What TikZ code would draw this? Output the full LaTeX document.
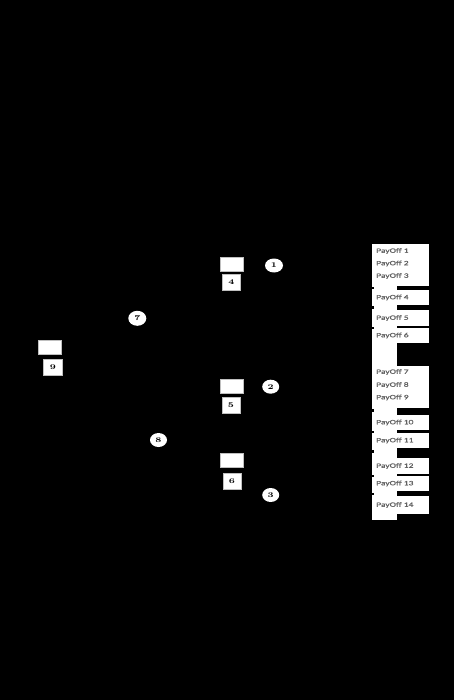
\documentclass[tikz,border=0pt]{standalone}
\usepackage{fontspec}
\usepackage{graphicx}
\usetikzlibrary{shapes.geometric}
\newfontfamily\payfont[FakeBold=0.5]{Carlito}
\newcommand{\paytxt}[1]{\scalebox{1.45}[1]{\fontsize{6.6}{7}\payfont #1}}
\newcommand{\numtxt}[1]{\scalebox{1.3}[1]{\fontsize{7.2}{8}\selectfont\bfseries #1}}
\tikzset{
  blankbox/.style={rectangle,fill=white,draw=gray!50,line width=0.4pt,inner sep=0pt,minimum width=23pt,minimum height=14pt},
  numbox/.style={rectangle,fill=white,draw=gray!50,line width=0.4pt,inner sep=0pt,minimum width=18pt,minimum height=16pt},
  chance/.style={ellipse,fill=white,draw=none,inner sep=0pt,minimum width=18pt,minimum height=14pt},
  paybox/.style={fill=white},
  tick/.style={fill=black},
  paylabel/.style={anchor=west,inner sep=0pt,text=black!62},
}
\begin{document}
\begin{tikzpicture}[x=1pt,y=-1pt]
\useasboundingbox (0,0) rectangle (454,700);
\fill[black] (0,0) rectangle (454,700);
% decision boxes and numbered boxes
\node[blankbox] (r1) at (231.5,264.5) {};
\node[numbox] (b4) at (231.5,282) {\numtxt{4}};
\node[chance] (c1) at (274,265.5) {\numtxt{1}};
\node[blankbox] (r2) at (231.5,386.3) {};
\node[numbox] (b5) at (231,404.7) {\numtxt{5}};
\node[chance,minimum width=17pt] (c2) at (270.7,386.7) {\numtxt{2}};
\node[blankbox] (r3) at (231.5,460.3) {};
\node[numbox] (b6) at (231.8,481) {\numtxt{6}};
\node[chance,minimum width=17pt] (c3) at (270.7,495) {\numtxt{3}};
\node[blankbox] (r9) at (50,347) {};
\node[numbox,minimum width=19pt] (b9) at (53,367) {\numtxt{9}};
\node[chance,minimum height=15pt] (c7) at (137.3,318.3) {\numtxt{7}};
\node[chance,minimum width=17pt] (c8) at (158.5,440) {\numtxt{8}};
% payoff column
\fill[paybox] (372,244) rectangle (397,520);
\fill[paybox] (372,244) rectangle (429,286);
\fill[paybox] (372,290) rectangle (429,305);
\fill[paybox] (372,310) rectangle (429,326);
\fill[paybox] (372,328) rectangle (429,343);
\fill[paybox] (372,366) rectangle (429,408);
\fill[paybox] (372,415) rectangle (429,430);
\fill[paybox] (372,433) rectangle (429,448);
\fill[paybox] (372,458) rectangle (429,474);
\fill[paybox] (372,476) rectangle (429,491);
\fill[paybox] (372,496) rectangle (429,514);
\foreach \ty in {286.5,306,326.5,409,430.5,450,474.5,492.5}
  \fill[tick] (371.5,\ty) rectangle (373.5,\ty+2.5);
\node[paylabel] (p1) at (376,251) {\paytxt{PayOff 1}};
\node[paylabel] (p2) at (376,263.5) {\paytxt{PayOff 2}};
\node[paylabel] (p3) at (376,276) {\paytxt{PayOff 3}};
\node[paylabel] (p4) at (376,297.5) {\paytxt{PayOff 4}};
\node[paylabel] (p5) at (376,318) {\paytxt{PayOff 5}};
\node[paylabel] (p6) at (376,335.5) {\paytxt{PayOff 6}};
\node[paylabel] (p7) at (376,372) {\paytxt{PayOff 7}};
\node[paylabel] (p8) at (376,385) {\paytxt{PayOff 8}};
\node[paylabel] (p9) at (376,397.5) {\paytxt{PayOff 9}};
\node[paylabel] (p10) at (376,422.5) {\paytxt{PayOff 10}};
\node[paylabel] (p11) at (376,440.5) {\paytxt{PayOff 11}};
\node[paylabel] (p12) at (376,466) {\paytxt{PayOff 12}};
\node[paylabel] (p13) at (376,483.5) {\paytxt{PayOff 13}};
\node[paylabel] (p14) at (376,505) {\paytxt{PayOff 14}};
\end{tikzpicture}
\end{document}
